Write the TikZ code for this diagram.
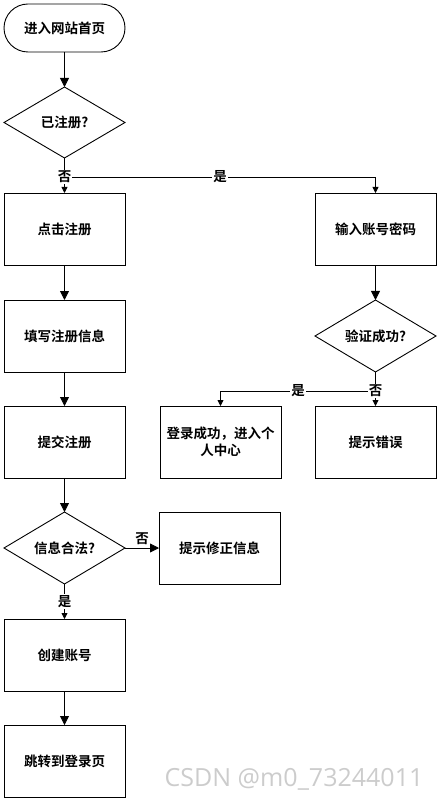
\documentclass[tikz,border=0pt]{standalone}
\usepackage{fontspec}
\usetikzlibrary{positioning,shapes.geometric,arrows.meta}
\newfontfamily\cjk{Noto Sans CJK SC}[BoldFont={* Bold}]
\newfontfamily\wmfont{Open Sans}

\begin{document}
\begin{tikzpicture}[x=1pt,y=1pt]
         \tikzset{every node/.style={font=\cjk\bfseries\fontsize{13.5}{17}\selectfont}}
         \tikzset{stadium/.style={draw,line width=.9pt,outer sep=0pt,rounded corners=24pt,minimum width=121pt,minimum height=48pt}}
         \tikzset{proc/.style={draw,line width=.9pt,outer sep=0pt,minimum width=121pt,minimum height=72pt,inner sep=2pt}}
         \tikzset{decision/.style={draw,line width=.9pt,outer sep=0pt,diamond,aspect=1.7,minimum width=121pt,minimum height=72pt,inner sep=0pt}}
         \tikzset{arr/.style={-{Triangle[length=9pt,width=9pt]},line width=.8pt}}
         \tikzset{arrs/.style={-{Triangle[length=6pt,width=6pt]},line width=.8pt}}
         \tikzset{lab/.style={fill=white,inner sep=1pt}}
         \useasboundingbox (0,0) rectangle (440,-802);
         \node[stadium] (home) at (64.5,-28) {进入网站首页};
         \node[decision,below=35pt of home,minimum height=71pt] (isreg) {已注册?};
         \node[proc,below=35pt of isreg] (click) {点击注册};
         \node[proc,right=190pt of click] (input) {输入账号密码};
         \node[proc,below=35pt of click] (fill) {填写注册信息};
         \node[decision,below=35pt of input] (verify) {验证成功?};
         \node[proc,below=34pt of fill] (submit) {提交注册};
         \node[proc,below=34pt of verify] (err) {提示错误};
         \node[proc,left=34pt of err,align=center] (ok) {登录成功，进入个\\人中心};
         \node[decision,below=34pt of submit] (valid) {信息合法?};
         \node[proc,right=34pt of valid] (fix) {提示修正信息};
         \node[proc,below=35pt of valid] (create) {创建账号};
         \node[proc,below=34pt of create] (jump) {跳转到登录页};
         % forks
         \coordinate (fork1) at ([yshift=-19pt]isreg.south);
         \coordinate (fork2) at ([yshift=-19pt]verify.south);
         \draw[arr] (home) -- (isreg);
         \draw[arrs] (isreg) -- (click);
         \draw[arrs] (fork1) -| node[lab,pos=.25] (yes1) {是} (input);
         \node[lab] (no1) at (fork1) {否};
         \draw[arr] (click) -- (fill);
         \draw[arr] (fill) -- (submit);
         \draw[arr] (submit) -- (valid);
         \draw[arr] (input) -- (verify);
         \draw[arrs] (verify) -- (err);
         \draw[arrs] (fork2) -| node[lab,pos=.25] (yes2) {是} (ok);
         \node[lab] (no2) at (fork2) {否};
         \draw[arr] (valid) -- node[above] (no3) {否} (fix);
         \draw[arrs] (valid) -- node[lab] (yes3) {是} (create);
         \draw[arr] (create) -- (jump);
         \node[font=\wmfont\fontsize{25}{25}\selectfont,text=black!20] (mark) at (294,-779) {CSDN @m0\_73244011};
      \end{tikzpicture}
\end{document}
